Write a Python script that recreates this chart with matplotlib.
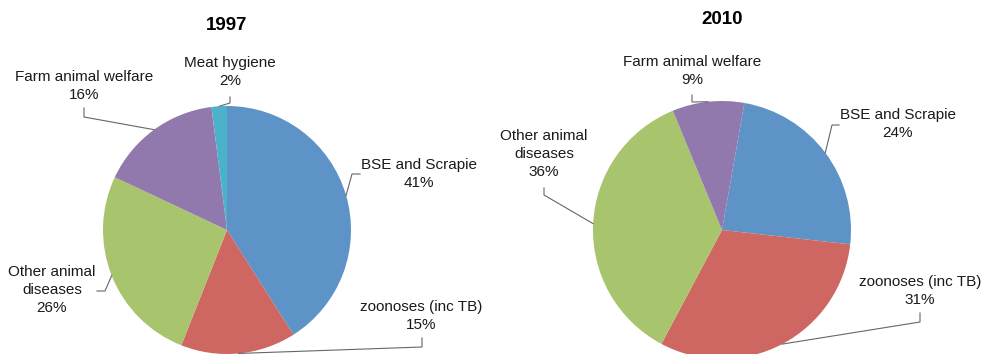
#!/usr/bin/env python3
"""Two pies: share of animal health spending by area, 1997 vs 2010."""

import numpy as np
import matplotlib.pyplot as plt

# ---- Data ----
labels_1997 = ["BSE and Scrapie", "zoonoses (inc TB)", "Other animal\ndiseases",
               "Farm animal welfare", "Meat hygiene"]
shares_1997 = [41, 15, 26, 16, 2]

labels_2010 = ["BSE and Scrapie", "zoonoses (inc TB)", "Other animal\ndiseases",
               "Farm animal welfare"]
shares_2010 = [24, 31, 36, 9]

colors = {
    "BSE and Scrapie": "#5E93C8",
    "zoonoses (inc TB)": "#CE6661",
    "Other animal\ndiseases": "#A8C46C",
    "Farm animal welfare": "#9179AE",
    "Meat hygiene": "#4CB2CA",
}

W, H = 982, 354
FONT = ["Liberation Sans", "DejaVu Sans"]
LINE_C = "#666666"
TEXT_C = "#1a1a1a"


def up(x, y):
    # layout below is given in top-left pixel coords; axes run bottom-up
    return x, H - y


fig = plt.figure(figsize=(W / 100, H / 100), dpi=100, facecolor="white")
ax = fig.add_axes([0, 0, 1, 1])


def draw_pie(labels, shares, center, radius, start, title, title_xy,
             text_xy, leaders):
    cx, cy = up(*center)
    wedges, _ = ax.pie(shares, colors=[colors[l] for l in labels],
                       startangle=start, counterclock=False,
                       center=(cx, cy), radius=radius,
                       wedgeprops=dict(linewidth=0), frame=True)
    ax.text(*up(*title_xy), title, ha="center", va="center",
            fontsize=13.5, fontweight="bold", family=FONT, color="black")
    for w, lab, share, txy, (p0, p1) in zip(wedges, labels, shares,
                                             text_xy, leaders):
        ax.text(*up(*txy), f"{lab}\n{share}%", ha="center", va="center",
                fontsize=11, family=FONT, color=TEXT_C, linespacing=1.4)
        mid = np.deg2rad((w.theta1 + w.theta2) / 2)
        ex, ey = cx + radius * np.cos(mid), cy + radius * np.sin(mid)
        (x0, y0), (x1, y1) = up(*p0), up(*p1)
        ax.plot([x0, x1, ex], [y0, y1, ey], color=LINE_C, lw=0.8,
                solid_joinstyle="miter")


# 1997
draw_pie(labels_1997, shares_1997, center=(227, 230), radius=124, start=90,
         title="1997", title_xy=(227, 26),
         text_xy=[(419, 174), (421, 316), (52, 290), (84, 86), (230, 72)],
         leaders=[((360, 174), (352, 174)), ((422, 338), (422, 347)),
                  ((97, 291), (105, 291)), ((84, 108), (84, 117)),
                  ((230, 97), (230, 103))])

# 2010
draw_pie(labels_2010, shares_2010, center=(722, 230), radius=129, start=80,
         title="2010", title_xy=(722, 19),
         text_xy=[(898, 124), (920, 291), (544, 154), (692, 71)],
         leaders=[((839, 125), (832, 125)), ((920, 313), (920, 322)),
                  ((544, 188), (544, 195)), ((692, 95), (692, 102))])

ax.set_xlim(0, W)
ax.set_ylim(0, H)
ax.set_aspect("auto")
ax.axis("off")

fig.savefig("out.png", dpi=100, facecolor="white")
plt.close(fig)
print("Saved: out.png")
